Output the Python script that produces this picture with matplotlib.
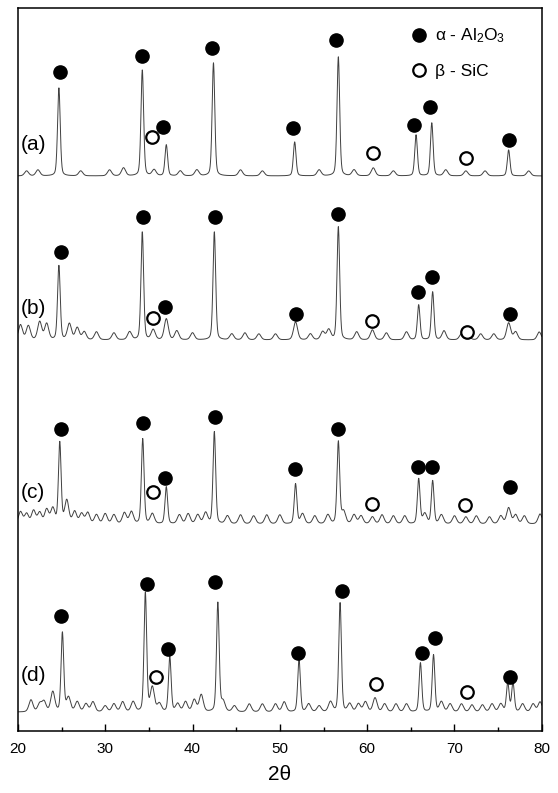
import numpy as np
import matplotlib
matplotlib.use("Agg")
import matplotlib.pyplot as plt

plt.rcParams['font.family'] = ['Liberation Sans', 'DejaVu Sans']
plt.rcParams['mathtext.fontset'] = 'custom'
plt.rcParams['mathtext.rm'] = 'Liberation Sans'
plt.rcParams['mathtext.it'] = 'Liberation Sans:italic'

# ---------------- data ----------------
xticks = [20, 30, 40, 50, 60, 70, 80]
trace_labels = ["(a)", "(b)", "(c)", "(d)"]
baselines = [555, 391, 207, 19]  # offset of each pattern (arb. units)

# peak positions (2theta) and intensities above baseline
a_pos = [21.0, 22.3, 24.7, 27.2, 30.5, 32.1, 34.25, 35.6, 37.0, 38.6, 40.5, 42.4, 45.5,
         48.0, 51.7, 54.5, 56.7, 58.5, 60.7, 63.0, 65.6, 67.4, 69.0, 71.3, 73.5, 76.2, 78.5]
a_int = [5, 6, 88, 5, 6, 8, 106, 6, 31, 5, 6, 113, 6,
         5, 34, 6, 119, 6, 8, 5, 41, 53, 6, 5, 5, 26, 5]

b_pos = [20.3, 21.2, 22.5, 23.3, 24.7, 25.9, 26.8, 27.6, 29.0, 31.0, 32.8, 34.25, 35.5,
         37.0, 38.2, 40.0, 42.5, 44.5, 46.0, 47.6, 49.5, 51.8, 53.5, 54.9, 55.6, 56.7,
         58.8, 60.6, 62.2, 64.5, 65.9, 67.5, 68.8, 70.8, 71.5, 73.0, 74.5, 76.2, 77.0, 79.7]
b_int = [15, 14, 18, 16, 74, 16, 12, 8, 8, 7, 8, 108, 10,
         21, 9, 7, 108, 6, 7, 6, 6, 18, 6, 8, 10, 113,
         8, 10, 7, 8, 35, 48, 9, 6, 7, 6, 6, 17, 8, 8]

c_pos = [20.3, 21.0, 21.8, 22.5, 23.3, 24.0, 24.8, 25.6, 26.5, 27.3, 28.0, 29.0, 30.0,
         31.0, 32.2, 33.0, 34.3, 35.4, 37.0, 38.5, 39.5, 40.6, 41.5, 42.5, 44.0, 45.5,
         47.0, 48.5, 50.0, 51.8, 52.6, 54.0, 55.5, 56.7, 57.3, 58.5, 59.3, 60.6, 61.7,
         63.0, 64.3, 65.9, 66.6, 67.5, 68.5, 70.0, 71.3, 72.5, 74.0, 75.3, 76.2, 77.0,
         78.0, 79.8]
c_int = [12, 10, 13, 11, 14, 15, 81, 23, 12, 10, 11, 9, 10,
         9, 11, 12, 85, 10, 37, 9, 10, 9, 11, 92, 8, 9,
         8, 9, 9, 40, 10, 8, 9, 82, 12, 9, 8, 7, 9,
         8, 8, 45, 10, 43, 9, 8, 7, 8, 7, 8, 16, 9,
         8, 10]

d_pos = [21.5, 22.5, 23.0, 24.0, 25.1, 25.8, 26.8, 27.8, 28.6, 30.0, 31.0, 32.0, 33.2,
         34.6, 35.4, 36.2, 37.4, 38.3, 39.2, 40.2, 41.0, 42.9, 43.5, 44.8, 46.5, 48.0,
         49.5, 50.5, 52.2, 53.3, 54.5, 55.8, 56.9, 58.0, 59.0, 59.8, 60.9, 62.0, 63.3,
         64.5, 66.1, 67.6, 68.5, 69.5, 70.8, 72.0, 73.2, 74.3, 75.3, 76.1, 76.7, 77.8,
         79.0, 79.8]
d_int = [12, 8, 10, 20, 79, 14, 10, 8, 10, 6, 8, 10, 10,
         119, 24, 8, 55, 8, 10, 12, 17, 109, 10, 6, 8, 8,
         8, 10, 52, 8, 6, 10, 109, 8, 8, 10, 14, 8, 8,
         8, 49, 57, 10, 8, 8, 7, 7, 8, 8, 29, 29, 8,
         8, 10]

# phase markers: alpha-Al2O3 (filled) and beta-SiC (open), x = 2theta, y = intensity
a_al_x = [24.83, 34.25, 42.18, 56.44, 36.67, 51.49, 65.40, 67.24, 76.21]
a_al_y = [659, 675, 683, 691, 604, 603, 606, 624, 591]
a_sic_x = [35.40, 60.70, 71.30]
a_sic_y = [594, 578, 573]

b_al_x = [24.94, 34.37, 42.53, 36.90, 51.84, 56.67, 65.86, 67.47, 76.32]
b_al_y = [479, 514, 514, 424, 417, 517, 439, 454, 417]
b_sic_x = [35.50, 60.57, 71.38]
b_sic_y = [413, 410, 399]

c_al_x = [24.94, 34.37, 42.53, 36.90, 51.72, 56.67, 65.86, 67.47, 76.32]
c_al_y = [302, 308, 314, 253, 262, 302, 264, 264, 244]
c_sic_x = [35.50, 60.57, 71.26]
c_sic_y = [239, 227, 226]

d_al_x = [24.94, 34.83, 42.53, 37.24, 52.07, 57.13, 66.32, 67.82, 76.32]
d_al_y = [115, 147, 149, 82, 78, 140, 78, 93, 54]
d_sic_x = [35.86, 61.03, 71.38]
d_sic_y = [54, 47, 39]

legend_labels = ["\u03b1 - Al$_2$O$_3$", "\u03b2 - SiC"]

# ---------------- drawing ----------------
fig = plt.figure(figsize=(5.58, 7.93), dpi=100)
ax = fig.add_axes([0.032, 0.078, 0.939, 0.912])

two_theta = np.linspace(20, 80, 3001)


def profile(x, p, h):
    # pseudo-Voigt line shape; small bumps are drawn broader
    w = 0.36 if h >= 25 else 0.55
    g = np.exp(-4 * np.log(2) * ((x - p) / w) ** 2)
    lz = 1.0 / (1.0 + 4 * ((x - p) / w) ** 2)
    return h * (0.7 * g + 0.3 * lz)


peaks = [(a_pos, a_int), (b_pos, b_int), (c_pos, c_int), (d_pos, d_int)]
for (pos, inten), base in zip(peaks, baselines):
    y = np.full_like(two_theta, float(base))
    for p, h in zip(pos, inten):
        y += profile(two_theta, p, h)
    ax.plot(two_theta, y, color='#404040', lw=0.7)

al_sets = [(a_al_x, a_al_y), (b_al_x, b_al_y), (c_al_x, c_al_y), (d_al_x, d_al_y)]
sic_sets = [(a_sic_x, a_sic_y), (b_sic_x, b_sic_y), (c_sic_x, c_sic_y), (d_sic_x, d_sic_y)]
for (mx, my) in al_sets:
    ax.plot(mx, my, 'o', ms=9.5, color='black', ls='none')
for (sx, sy) in sic_sets:
    ax.plot(sx, sy, 'o', ms=9, mfc='white', mec='black', mew=1.6, ls='none')

# trace labels
label_y = [586, 423, 239, 56]
for lab, ly in zip(trace_labels, label_y):
    ax.text(20.35, ly, lab, fontsize=15, va='center', ha='left')

# legend
ax.plot([0.765], [0.963], 'o', ms=9.5, color='black', transform=ax.transAxes, clip_on=False)
ax.plot([0.765], [0.914], 'o', ms=9, mfc='white', mec='black', mew=1.6,
        transform=ax.transAxes, clip_on=False)
ax.text(0.797, 0.961, legend_labels[0], transform=ax.transAxes, fontsize=12.5, va='center')
ax.text(0.797, 0.912, legend_labels[1], transform=ax.transAxes, fontsize=12.5, va='center')

ax.set_xlim(20, 80)
ax.set_ylim(0, 723)
ax.set_xticks(xticks)
ax.set_xticklabels([str(t) for t in xticks], fontsize=11)
ax.set_xticks(np.arange(25, 80, 10), minor=True)
ax.tick_params(axis='x', which='major', direction='in', length=5, width=1, pad=8)
ax.tick_params(axis='x', which='minor', direction='in', length=3, width=1)
ax.set_yticks([])
for s in ax.spines.values():
    s.set_linewidth(1.1)
ax.set_xlabel("2\u03b8", fontsize=15, labelpad=6)

fig.savefig("out.png", dpi=100)
